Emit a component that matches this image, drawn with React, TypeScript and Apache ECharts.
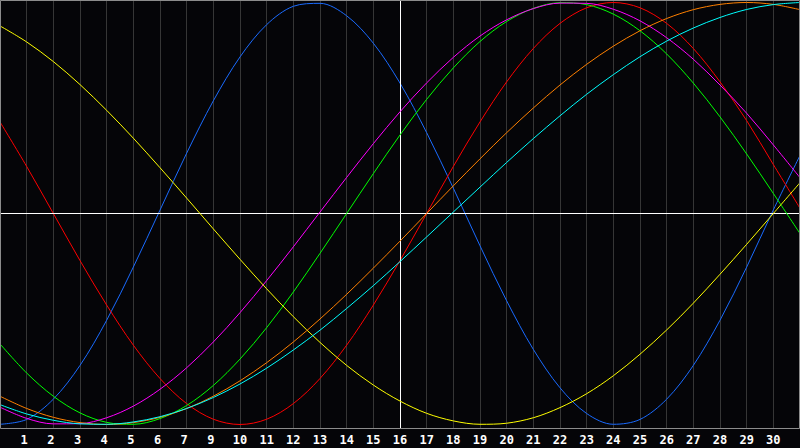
import React, { useEffect, useRef } from "react";
import * as echarts from "echarts";

// Gridline positions (days from the left edge of the plot)
const days = [0, 1, 2, 3, 4, 5, 6, 7, 8, 9, 10, 11, 12, 13, 14, 15, 16, 17, 18, 19, 20, 21, 22, 23, 24, 25, 26, 27, 28, 29, 30];

// Tick labels shown under gridlines 1..29 (as printed in the reference)
const tickLabels = ["1", "2", "3", "4", "5", "6", "7", "9", "10", "11", "12", "13", "14", "15", "16", "17", "18", "19", "20", "21", "22", "23", "24", "25", "26", "27", "28", "29", "30"];

const todayIndex = 15;

const blueSeries = [-0.999, -0.976, -0.880, -0.720, -0.506, -0.254, 0.016, 0.286, 0.534, 0.742, 0.895, 0.982, 0.996, 0.937, 0.807, 0.618, 0.383, 0.120, -0.153, -0.414, -0.644, -0.826, -0.948, -0.999, -0.976, -0.880, -0.720, -0.506, -0.254, 0.017, 0.275];
const redSeries = [0.434, 0.223, 0.0, -0.223, -0.434, -0.624, -0.782, -0.901, -0.975, -1.0, -0.975, -0.901, -0.782, -0.624, -0.434, -0.223, 0.0, 0.223, 0.434, 0.624, 0.782, 0.901, 0.975, 1.0, 0.975, 0.901, 0.782, 0.624, 0.440, 0.232, 0.025];
const greenSeries = [-0.618, -0.756, -0.866, -0.945, -0.990, -0.999, -0.972, -0.910, -0.815, -0.690, -0.541, -0.372, -0.189, 0.0, 0.189, 0.372, 0.541, 0.690, 0.815, 0.910, 0.972, 0.999, 0.990, 0.945, 0.866, 0.756, 0.618, 0.458, 0.282, 0.095, -0.095];
const magentaSeries = [-0.918, -0.971, -0.997, -0.996, -0.968, -0.913, -0.833, -0.731, -0.609, -0.470, -0.318, -0.158, 0.007, 0.171, 0.331, 0.482, 0.619, 0.740, 0.841, 0.918, 0.971, 0.997, 0.996, 0.968, 0.913, 0.833, 0.731, 0.609, 0.475, 0.325, 0.170];
const yellowSeries = [0.889, 0.813, 0.720, 0.611, 0.489, 0.357, 0.217, 0.073, -0.073, -0.217, -0.357, -0.489, -0.611, -0.720, -0.813, -0.889, -0.947, -0.983, -0.999, -0.994, -0.968, -0.920, -0.854, -0.769, -0.667, -0.552, -0.425, -0.288, -0.146, 0.0, 0.146];
const orangeSeries = [-0.866, -0.924, -0.966, -0.991, -1.0, -0.991, -0.966, -0.924, -0.866, -0.793, -0.707, -0.609, -0.5, -0.383, -0.259, -0.131, 0.0, 0.131, 0.259, 0.383, 0.5, 0.609, 0.707, 0.793, 0.866, 0.924, 0.966, 0.991, 1.0, 0.991, 0.966];
const cyanSeries = [-0.906, -0.950, -0.980, -0.997, -0.999, -0.988, -0.963, -0.924, -0.872, -0.808, -0.733, -0.647, -0.553, -0.450, -0.342, -0.228, -0.111, 0.007, 0.125, 0.242, 0.355, 0.463, 0.565, 0.658, 0.743, 0.817, 0.879, 0.929, 0.967, 0.990, 1.0];

const seriesList = [
  { name: "blue", color: "#1a6bff", values: blueSeries },
  { name: "red", color: "#ff0000", values: redSeries },
  { name: "green", color: "#00ff00", values: greenSeries },
  { name: "magenta", color: "#ff00ff", values: magentaSeries },
  { name: "yellow", color: "#ffff00", values: yellowSeries },
  { name: "orange", color: "#ff8000", values: orangeSeries },
  { name: "cyan", color: "#00ffff", values: cyanSeries },
];

export default function App() {
  const ref = useRef<HTMLDivElement>(null);

  useEffect(() => {
    if (!ref.current) return;
    const chart = echarts.init(ref.current, undefined, { renderer: "svg" });

    const series: any[] = seriesList.map((s, i) => ({
      name: s.name,
      type: "line",
      data: days.map((d, j) => [d, s.values[j]]),
      showSymbol: false,
      smooth: 0.33,
      silent: true,
      lineStyle: { color: s.color, width: 1 },
      itemStyle: { color: s.color },
      z: 3 + i,
      markLine:
        i === 0
          ? {
              silent: true,
              symbol: ["none", "none"],
              label: { show: false },
              lineStyle: { color: "#ffffff", width: 1, type: "solid" },
              data: [{ xAxis: todayIndex }, { yAxis: 0 }],
            }
          : undefined,
    }));

    chart.setOption({
      animation: false,
      backgroundColor: "#050508",
      grid: { left: 0, right: 0, top: 0, bottom: 20, containLabel: false },
      xAxis: {
        type: "value",
        min: 0,
        max: 30,
        interval: 1,
        axisLine: { show: false },
        axisTick: { show: false },
        splitLine: { show: true, lineStyle: { color: "#363636", width: 1 } },
        axisLabel: {
          show: true,
          margin: 6,
          color: "#ffffff",
          fontFamily: "DejaVu Sans Mono",
          fontWeight: "bold",
          fontSize: 12,
          showMinLabel: false,
          showMaxLabel: false,
          formatter: (v: number) => {
            const idx = Math.round(v);
            if (idx < 1 || idx > tickLabels.length) return "";
            const t = tickLabels[idx - 1];
            return t.length === 1 ? `{s|${t}}` : `{d|${t}}`;
          },
          rich: {
            s: { color: "#ffffff", fontFamily: "DejaVu Sans Mono", fontWeight: "bold", fontSize: 12, padding: [0, 5, 0, 0] },
            d: { color: "#ffffff", fontFamily: "DejaVu Sans Mono", fontWeight: "bold", fontSize: 12 },
          },
        },
      },
      yAxis: {
        type: "value",
        min: -1.0166,
        max: 1.0118,
        axisLine: { show: false },
        axisTick: { show: false },
        axisLabel: { show: false },
        splitLine: { show: false },
      },
      graphic: [
        {
          type: "rect",
          silent: true,
          z: 100,
          shape: { x: 0.5, y: 0.5, width: 799, height: 428 },
          style: { fill: "none", stroke: "#8c8c8c", lineWidth: 1 },
        },
      ],
      series,
    });

    return () => {
      chart.dispose();
    };
  }, []);

  return (
    <div
      ref={ref}
      style={{ position: "absolute", left: 0, top: 0, width: 800, height: 448 }}
    />
  );
}
